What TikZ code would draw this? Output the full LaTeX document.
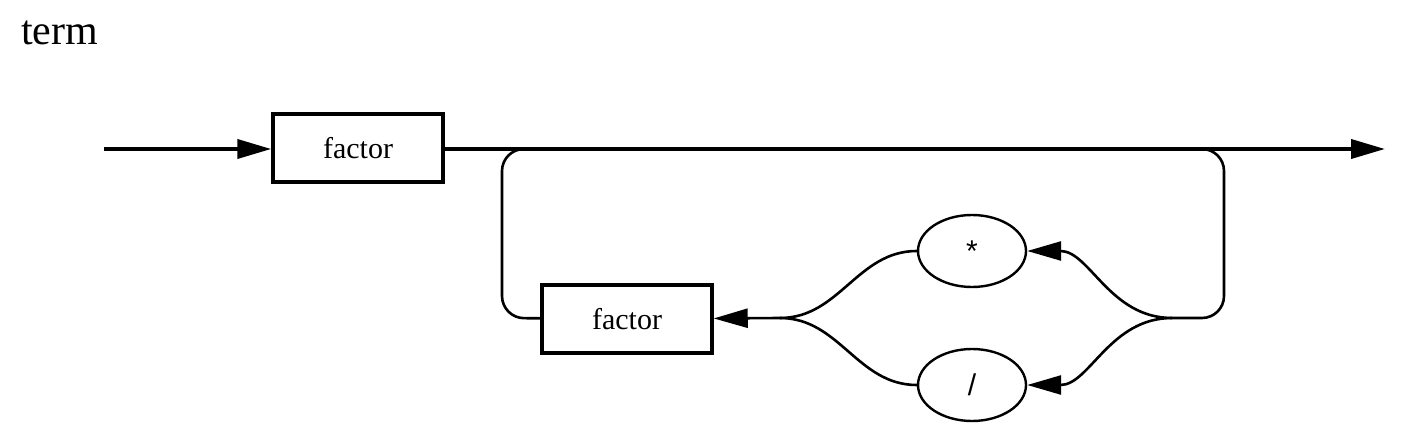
\documentclass[tikz,border=0pt]{standalone}
\usepackage{fontspec}
\setmainfont{Liberation Serif}
\newfontfamily\opfont{Liberation Sans}
\usetikzlibrary{arrows.meta,shapes.geometric,positioning}

\tikzset{
  rulebox/.style={draw, line width=3.5pt, minimum width=170pt, minimum height=68pt, inner sep=0pt, font=\fontsize{30}{30}\selectfont},
  opnode/.style={draw, ellipse, line width=2.4pt, minimum width=108pt, minimum height=72pt, inner sep=0pt, font=\opfont\fontsize{30}{30}\selectfont},
  mainline/.style={line width=3.8pt},
  loopline/.style={line width=2.6pt},
  tip/.style={-{Triangle[length=34pt,width=19pt]}}
}

\begin{document}
\begin{tikzpicture}[x=1pt,y=-1pt]
	\useasboundingbox (0,0) rectangle (1406,444);
	\node[anchor=base west, inner sep=0pt, font=\fontsize{42}{42}\selectfont] (title) at (21,45) {term};
	% main track
	\coordinate (start) at (104,149);
	\coordinate (finish) at (1385,149);
	\node[rulebox] (fac1) at (358,148) {factor};
	\draw [mainline,tip] (start) -- (start -| fac1.west);
	\draw [mainline,tip] (fac1.east |- finish) -- (finish);
	% repetition
	\node[rulebox] (fac2) at (627,319) {factor};
	\node[opnode] (mul) at (972,251) {*};
	\node[opnode] (divi) at (972,385) {/};
	\coordinate (rjoin) at (1172,318);
	\coordinate (ljoin) at (780,318);
	\draw [loopline, rounded corners=22pt] (1180,149) -- (1224,149) -- (1224,318) -- (rjoin);
	\draw [loopline,tip] (rjoin) to[out=180,in=0] (mul);
	\draw [loopline,tip] (rjoin) to[out=180,in=0] (divi);
	\draw [loopline] (mul) to[out=180,in=0] (ljoin);
	\draw [loopline] (divi) to[out=180,in=0] (ljoin);
	\draw [loopline,tip] (ljoin) -- (fac2);
	\draw [loopline, rounded corners=22pt] (fac2) -- (502,318) -- (502,149) -- (545,149);
\end{tikzpicture}
\end{document}
